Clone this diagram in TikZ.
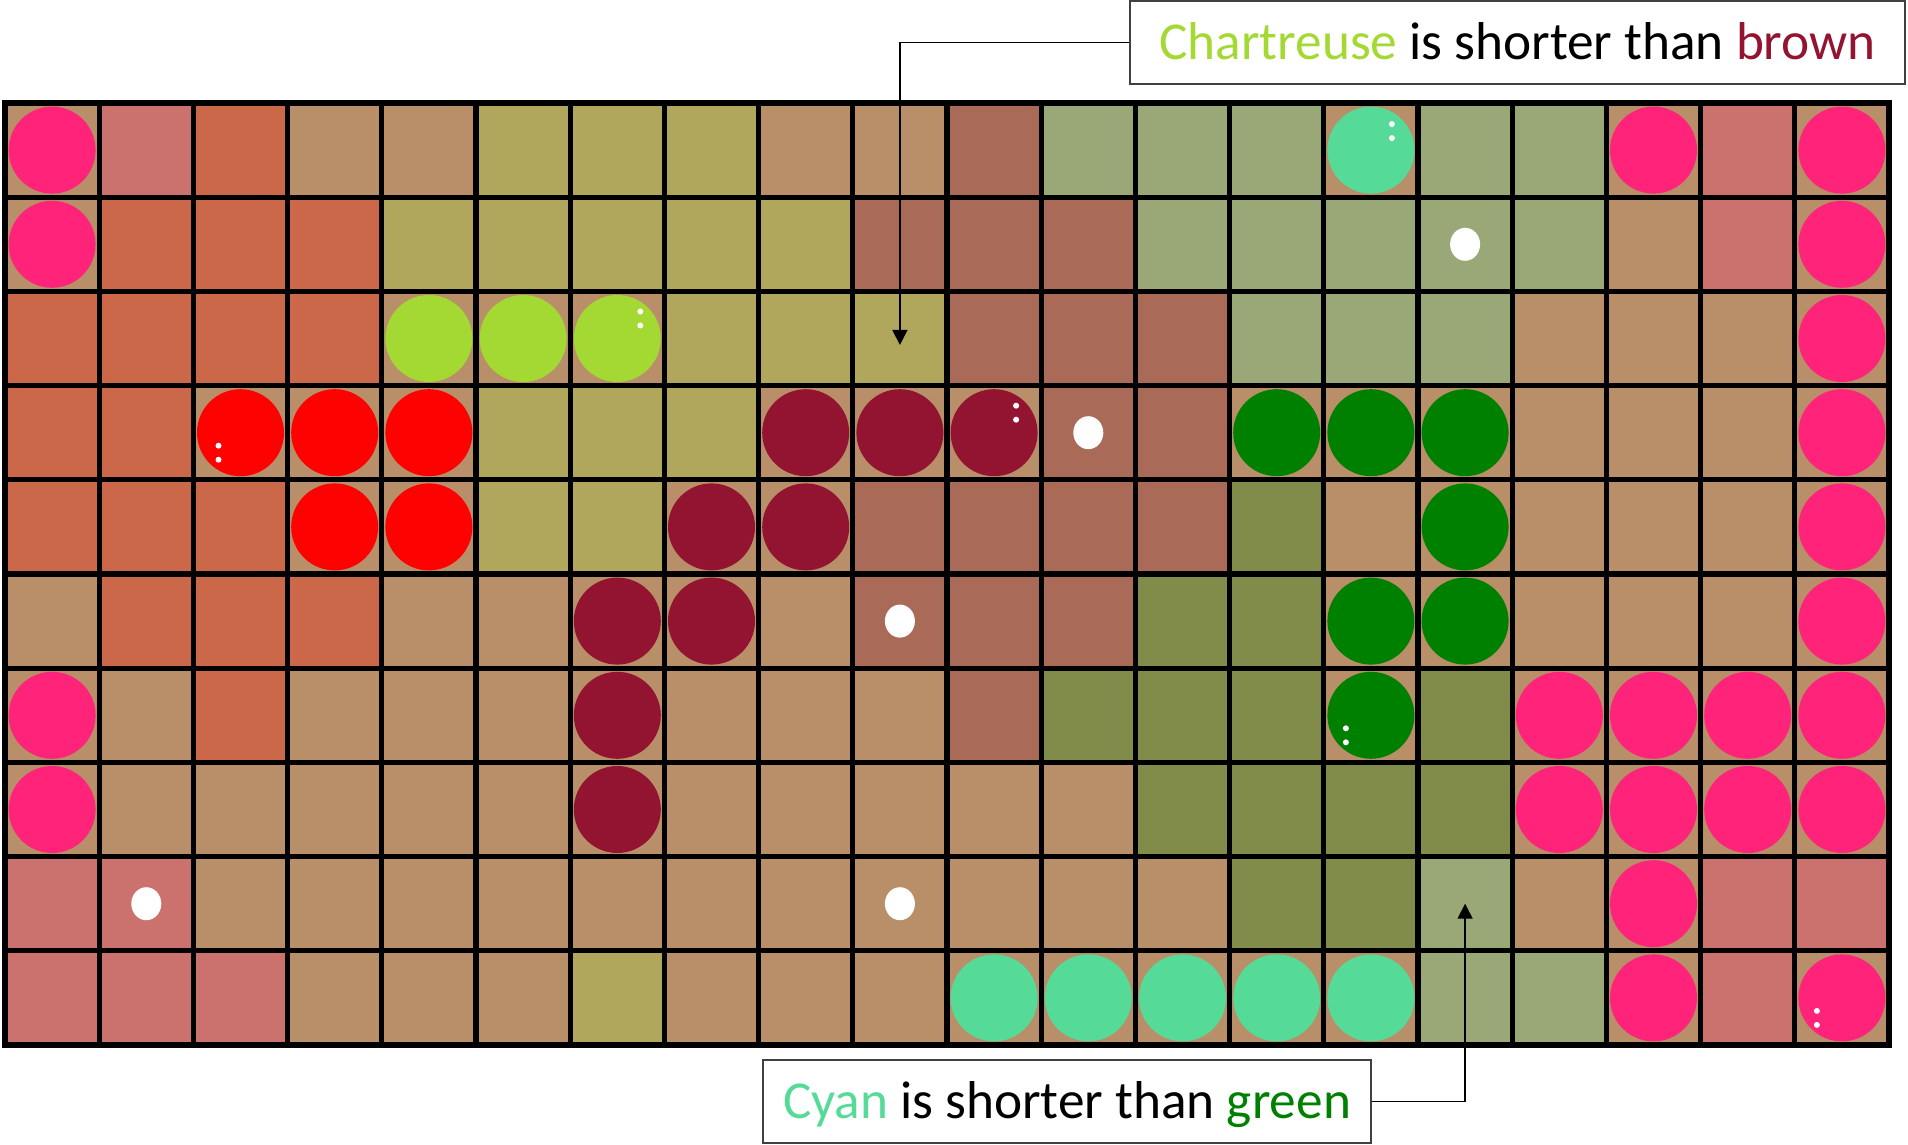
\documentclass[tikz,border=0pt]{standalone}
\usepackage{fontspec}
\setmainfont{Carlito}
\usetikzlibrary{arrows.meta}
\definecolor{cT}{HTML}{B88F68}
\definecolor{cO}{HTML}{CB6849}
\definecolor{cP}{HTML}{CC726E}
\definecolor{cY}{HTML}{B0A65C}
\definecolor{cB}{HTML}{AA6A58}
\definecolor{cS}{HTML}{9AA878}
\definecolor{cD}{HTML}{828C4A}
\definecolor{kPink}{HTML}{FF2479}
\definecolor{kChart}{HTML}{A4D934}
\definecolor{kRed}{HTML}{FE0101}
\definecolor{kBrown}{HTML}{931430}
\definecolor{kGreen}{HTML}{008000}
\definecolor{kCyan}{HTML}{55DB97}
\tikzset{
  disc n/.style={},
  disc k/.style={fill=kPink},
  disc h/.style={fill=kChart},
  disc r/.style={fill=kRed},
  disc b/.style={fill=kBrown},
  disc g/.style={fill=kGreen},
  disc c/.style={fill=kCyan},
  gridline/.style={draw=black, line width=2.6pt},
  labelbox/.style={draw=black!75, line width=0.8pt, inner sep=0pt,
    minimum height=41.5pt, text height=17.2pt, text depth=0pt,
    font=\fontsize{26.65pt}{30pt}\selectfont},
  callout/.style={draw=black, line width=0.75pt, -{Triangle[length=7.5pt,width=7.5pt]}},
}
\begin{document}
\begin{tikzpicture}[x=0.5pt,y=-0.5pt]
\useasboundingbox (0,0) rectangle (1908,1145);
\def\gx{5}\def\gy{103}\def\cs{94.2}
\foreach \rowlist [count=\ry from 0] in {
 {T/k,P/n,O/n,T/n,T/n,Y/n,Y/n,Y/n,T/n,T/n,B/n,S/n,S/n,S/n,T/c,S/n,S/n,T/k,P/n,T/k},
 {T/k,O/n,O/n,O/n,Y/n,Y/n,Y/n,Y/n,Y/n,B/n,B/n,B/n,S/n,S/n,S/n,S/n,S/n,T/n,P/n,T/k},
 {O/n,O/n,O/n,O/n,T/h,T/h,T/h,Y/n,Y/n,Y/n,B/n,B/n,B/n,S/n,S/n,S/n,T/n,T/n,T/n,T/k},
 {O/n,O/n,T/r,T/r,T/r,Y/n,Y/n,Y/n,T/b,T/b,T/b,B/n,B/n,T/g,T/g,T/g,T/n,T/n,T/n,T/k},
 {O/n,O/n,O/n,T/r,T/r,Y/n,Y/n,T/b,T/b,B/n,B/n,B/n,B/n,D/n,T/n,T/g,T/n,T/n,T/n,T/k},
 {T/n,O/n,O/n,O/n,T/n,T/n,T/b,T/b,T/n,B/n,B/n,B/n,D/n,D/n,T/g,T/g,T/n,T/n,T/n,T/k},
 {T/k,T/n,O/n,T/n,T/n,T/n,T/b,T/n,T/n,T/n,B/n,D/n,D/n,D/n,T/g,D/n,T/k,T/k,T/k,T/k},
 {T/k,T/n,T/n,T/n,T/n,T/n,T/b,T/n,T/n,T/n,T/n,T/n,D/n,D/n,D/n,D/n,T/k,T/k,T/k,T/k},
 {P/n,P/n,T/n,T/n,T/n,T/n,T/n,T/n,T/n,T/n,T/n,T/n,T/n,D/n,D/n,S/n,T/n,T/k,P/n,P/n},
 {P/n,P/n,P/n,T/n,T/n,T/n,Y/n,T/n,T/n,T/n,T/c,T/c,T/c,T/c,T/c,S/n,S/n,T/k,P/n,T/k}}{
  \foreach \bg/\dk [count=\cx from 0] in \rowlist {
    \coordinate (cell-\cx-\ry) at ({\gx+\cs*(\cx+0.5)},{\gy+\cs*(\ry+0.5)});
    \fill[fill=c\bg] ({\gx+\cs*\cx},{\gy+\cs*\ry}) rectangle ++(\cs,\cs);
    \path[disc \dk] (cell-\cx-\ry) circle[radius=43.5];
  }
}
% white dots
\foreach \cx/\ry in {15/1,11/3,9/5,1/8,9/8}
  \fill[white] (cell-\cx-\ry) ellipse[x radius=15,y radius=16.5];
\foreach \cx/\ry/\dx/\dy in {14/0/21/-26,6/2/23/-27,10/3/22/-27,2/3/-22/13,14/6/-25/13,19/9/-25/13}{
  \fill[white] ([shift={(\dx,\dy)}]cell-\cx-\ry) circle[radius=3];
  \fill[white] ([shift={(\dx,{\dy+14})}]cell-\cx-\ry) circle[radius=3];
}
% grid
\foreach \i in {1,...,19}
  \draw[gridline] ({\gx+\cs*\i},\gy) -- ({\gx+\cs*\i},{\gy+10*\cs});
\foreach \j in {1,...,9}
  \draw[gridline] (\gx,{\gy+\cs*\j}) -- ({\gx+20*\cs},{\gy+\cs*\j});
\draw[draw=black, line width=3pt] (\gx,\gy) rectangle ++({20*\cs},{10*\cs});
% labels
\node[labelbox, minimum width=387.5pt] (topbox) at (1517.5,42.5)
  {{\color{kChart}Chartreuse} is shorter than {\color{kBrown}brown}};
\node[labelbox, minimum width=304pt] (botbox) at (1067,1101.5)
  {{\color{kCyan}Cyan} is shorter than {\color{kGreen}green}};
\draw[callout, shorten >=-3.2pt] (topbox.west) -| (cell-9-2);
\draw[callout] (botbox.east) -| (cell-15-8);
\end{tikzpicture}
\end{document}
